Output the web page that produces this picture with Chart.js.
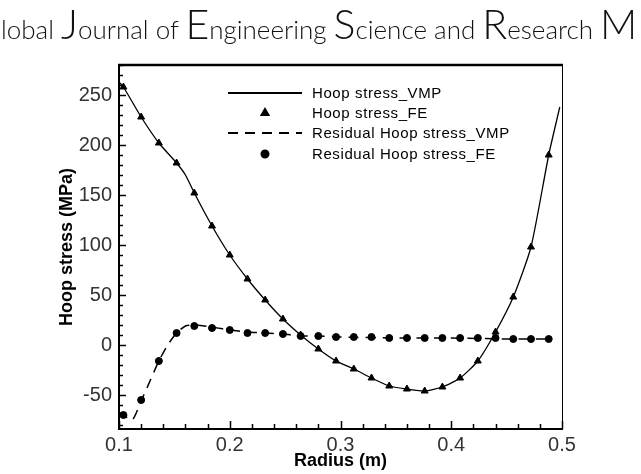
<!DOCTYPE html>
<html>
<head>
<meta charset="utf-8">
<script src="https://cdn.jsdelivr.net/npm/chart.js@4/dist/chart.umd.min.js"></script>
<style>
  html, body { margin: 0; padding: 0; background: #fff; overflow: hidden; }
  #wrap { position: relative; width: 641px; height: 474px; overflow: hidden; }
  #header {
    position: absolute; top: 2px; left: 1px; white-space: nowrap;
    font-family: Lato, 'Open Sans', sans-serif; font-weight: 300;
    font-size: 26px; color: #111; line-height: 44px;
  }
  #header .cap { font-size: 41px; }
  canvas { position: absolute; top: 0; left: 0; }
</style>
</head>
<body>
<div id="wrap">
  <canvas id="chart" width="641" height="474"></canvas>
  <div id="header">lobal <span class="cap">J</span>ournal of <span class="cap">E</span>ngineering <span class="cap">S</span>cience and <span class="cap">R</span>esearch <span class="cap">M</span></div>
</div>
<script>
// Radius positions of the FE results (m)
const radiusFE = [0.104, 0.120, 0.136, 0.152, 0.168, 0.184, 0.200, 0.216, 0.232, 0.248,
  0.264, 0.280, 0.296, 0.312, 0.328, 0.344, 0.360, 0.376, 0.392, 0.408,
  0.424, 0.440, 0.456, 0.472, 0.488];
const hoopFE = [258, 228, 202, 182, 152, 119, 90, 66, 45, 26,
  10, -4, -16, -24, -33, -41, -44, -46, -42, -33,
  -16, 13, 48, 98, 190];
const residualFE = [-70, -55, -16, 12, 19, 17, 15, 12, 12, 11,
  9, 9, 8, 8, 8, 7, 7, 7, 7, 7,
  7, 7, 6, 6, 6];

// VMP curves
const radiusVMP = [0.100, 0.104, 0.120, 0.136, 0.152, 0.160, 0.168, 0.184, 0.200, 0.216,
  0.232, 0.248, 0.264, 0.280, 0.296, 0.312, 0.328, 0.344, 0.360, 0.376,
  0.392, 0.408, 0.424, 0.440, 0.456, 0.472, 0.488, 0.498];
const hoopVMP = [263, 258, 228, 202, 182, 170, 152, 119, 90, 66,
  45, 26, 10, -4, -16, -24, -33, -41, -44, -46,
  -42, -33, -16, 13, 48, 98, 190, 238];
const radiusResidualVMP = [0.100, 0.104, 0.112, 0.120, 0.128, 0.136, 0.144, 0.152, 0.160, 0.168,
  0.184, 0.200, 0.216, 0.232, 0.248, 0.264, 0.280, 0.300, 0.350, 0.400, 0.450, 0.490];
const residualVMP = [-67, -70, -75, -56, -36, -16, 0, 12, 19, 20,
  18, 15, 13, 12, 11, 9, 9, 8, 7, 7, 6, 6];

const xTitle = 'Radius (m)';
const yTitle = 'Hoop stress (MPa)';

const toPoints = (xs, ys) => xs.map((x, i) => ({ x: x, y: ys[i] }));

const tickFont = { family: "'Liberation Sans Narrow', 'Liberation Sans', sans-serif", size: 20 };
const titleFont = { family: "'Liberation Sans', Arial, sans-serif", size: 18, weight: 'bold' };

// Inward ticks, top/right frame and the boxed-in legend
const framePlugin = {
  id: 'frame',
  afterDraw(chart) {
    const { ctx, chartArea, scales } = chart;
    const { left, right, top, bottom } = chartArea;
    ctx.save();
    ctx.strokeStyle = '#000';
    ctx.lineWidth = 1.5;
    scales.y.ticks.forEach(t => {
      const py = Math.round(scales.y.getPixelForValue(t.value)) + 0.5;
      const len = Math.abs(t.value % 50) < 1e-6 ? 7 : 4;
      ctx.beginPath();
      ctx.moveTo(left, py);
      ctx.lineTo(left + len, py);
      ctx.stroke();
    });
    scales.x.ticks.forEach(t => {
      const px = Math.round(scales.x.getPixelForValue(t.value)) + 0.5;
      const major = Math.abs(t.value * 10 - Math.round(t.value * 10)) < 1e-6;
      const len = major ? 8 : 5;
      ctx.beginPath();
      ctx.moveTo(px, bottom);
      ctx.lineTo(px, bottom - len);
      ctx.stroke();
    });
    // top and right edges
    ctx.lineWidth = 2.5;
    ctx.beginPath();
    ctx.moveTo(left - 1, top);
    ctx.lineTo(right + 1, top);
    ctx.stroke();
    ctx.lineWidth = 1;
    ctx.beginPath();
    ctx.moveTo(right + 0.5, top);
    ctx.lineTo(right + 0.5, bottom);
    ctx.stroke();

    // legend
    const ds = chart.data.datasets;
    const x0 = left + 109, x1 = left + 183, mx = left + 146, tx = left + 193;
    const rowY = [top + 28, top + 48, top + 68, top + 89];
    ctx.font = "15px 'Liberation Sans', Arial, sans-serif";
    ctx.letterSpacing = '0.6px';
    ctx.fillStyle = '#000';
    ctx.textBaseline = 'middle';
    ds.forEach((d, i) => {
      const y = rowY[i];
      if (d.showLine) {
        ctx.lineWidth = 2;
        ctx.setLineDash(d.borderDash || []);
        ctx.beginPath();
        ctx.moveTo(x0, y);
        ctx.lineTo(x1, y);
        ctx.stroke();
        ctx.setLineDash([]);
      } else {
        Chart.helpers.drawPoint(ctx, {
          pointStyle: d.pointStyle, radius: d.pointRadius, rotation: 0, borderWidth: 1
        }, mx, y);
        ctx.fill();
      }
      ctx.fillText(d.label, tx, y + 1);
    });
    ctx.restore();
  }
};

new Chart(document.getElementById('chart'), {
  type: 'scatter',
  data: {
    datasets: [
      {
        label: 'Hoop stress_VMP',
        data: toPoints(radiusVMP, hoopVMP),
        showLine: true,
        borderColor: '#000',
        borderWidth: 1.3,
        pointRadius: 0,
        tension: 0.2
      },
      {
        label: 'Hoop stress_FE',
        data: toPoints(radiusFE, hoopFE),
        showLine: false,
        pointStyle: 'triangle',
        pointRadius: 4,
        backgroundColor: '#000',
        borderColor: '#000',
        borderWidth: 1
      },
      {
        label: 'Residual Hoop stress_VMP',
        data: toPoints(radiusResidualVMP, residualVMP),
        showLine: true,
        borderColor: '#000',
        borderWidth: 1.5,
        borderDash: [10, 7],
        pointRadius: 0,
        tension: 0.2
      },
      {
        label: 'Residual Hoop stress_FE',
        data: toPoints(radiusFE, residualFE),
        showLine: false,
        pointStyle: 'circle',
        pointRadius: 3.5,
        backgroundColor: '#000',
        borderColor: '#000',
        borderWidth: 1
      }
    ]
  },
  options: {
    responsive: false,
    animation: false,
    layout: { padding: { top: 65, right: 79, left: 0, bottom: 0 } },
    plugins: {
      legend: { display: false },
      tooltip: { enabled: false }
    },
    scales: {
      x: {
        type: 'linear',
        min: 0.1,
        max: 0.5,
        afterFit: (scale) => { scale.height = 45; },
        border: { display: true, width: 2, color: '#000' },
        grid: { display: false, drawTicks: false },
        ticks: {
          stepSize: 0.02,
          autoSkip: false,
          maxRotation: 0,
          includeBounds: false,
          padding: 4,
          color: '#333',
          font: tickFont,
          callback: (v) => Math.abs(v * 10 - Math.round(v * 10)) < 1e-6 ? v.toFixed(1) : ''
        },
        title: { display: true, text: xTitle, color: '#000', font: titleFont, padding: { top: 0, bottom: 2 } }
      },
      y: {
        min: -84,
        max: 280,
        afterFit: (scale) => { scale.width = 119; },
        border: { display: true, width: 2, color: '#000' },
        grid: { display: false, drawTicks: false },
        ticks: {
          stepSize: 10,
          autoSkip: false,
          includeBounds: false,
          padding: 7,
          color: '#333',
          font: tickFont,
          callback: (v) => Math.abs(v % 50) < 1e-6 ? String(v) : ''
        },
        title: { display: true, text: yTitle, color: '#000', font: titleFont, padding: { top: 56, bottom: 0 } }
      }
    }
  },
  plugins: [framePlugin]
});
</script>
</body>
</html>
